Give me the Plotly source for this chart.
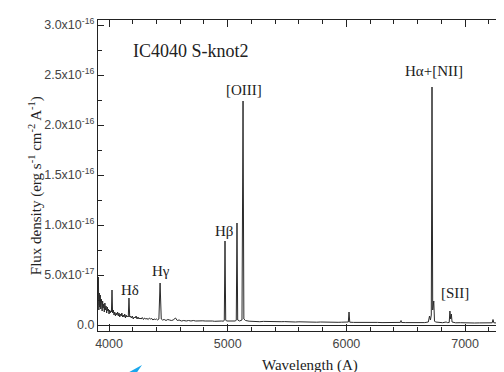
import plotly.graph_objects as go

# Spectrum of IC4040 S-knot2, flux in units of 1e-17 erg/s/cm2/A
wavelength = [
    3907, 3910, 3914, 3918, 3922, 3926, 3930, 3934, 3938, 3942, 3946, 3950,
    3955, 3960, 3965, 3970, 3975, 3980, 3985, 3990, 3995, 4000, 4005, 4010,
    4015, 4020, 4025, 4030, 4036, 4042, 4048, 4054, 4060, 4066, 4072, 4078,
    4084, 4090, 4096, 4102, 4108, 4114, 4120, 4126, 4132, 4138, 4144, 4150,
    4156, 4162, 4168, 4174, 4180, 4188, 4196, 4204, 4212, 4220, 4228, 4236,
    4244, 4252, 4260, 4270, 4280, 4290, 4300, 4310, 4320, 4330, 4340, 4350,
    4360, 4370, 4380, 4390, 4400, 4410, 4420, 4430, 4440, 4450, 4465, 4480,
    4495, 4510, 4525, 4540, 4560, 4575, 4590, 4610, 4630, 4650, 4670, 4690,
    4710, 4730, 4750, 4770, 4790, 4810, 4830, 4850, 4870, 4890, 4910, 4930,
    4950, 4965, 4971, 4977, 4983, 4990, 5010, 5040, 5065, 5072, 5078, 5084,
    5100, 5120, 5129, 5136, 5150, 5180, 5210, 5240, 5270, 5300, 5330, 5360,
    5390, 5420, 5450, 5480, 5510, 5540, 5570, 5600, 5630, 5660, 5690, 5720,
    5750, 5780, 5810, 5840, 5870, 5900, 5930, 5960, 5990, 6010, 6016, 6022,
    6028, 6060, 6100, 6140, 6180, 6220, 6260, 6300, 6340, 6380, 6420, 6455,
    6460, 6465, 6500, 6540, 6580, 6620, 6660, 6690, 6700, 6708, 6715, 6721,
    6727, 6736, 6742, 6750, 6780, 6810, 6840, 6850, 6866, 6872, 6878, 6884,
    6890, 6920, 6960, 7000, 7040, 7080, 7120, 7160, 7200, 7228, 7235, 7242,
    7270, 7296, 7302, 7308, 7340, 7395,
]
flux = [
    2.0, 4.8, 1.5, 3.2, 1.8, 3.0, 1.6, 2.6, 2.2, 1.4, 2.4, 1.7,
    2.1, 1.3, 2.2, 1.5, 1.9, 1.2, 1.8, 1.4, 1.6, 1.1, 1.5, 1.2,
    1.4, 1.3, 3.5, 1.2, 1.5, 1.0, 1.3, 0.9, 1.2, 1.0, 1.3, 0.9,
    1.2, 0.8, 1.1, 0.9, 1.2, 0.8, 1.0, 0.8, 1.1, 0.7, 1.0, 0.8,
    0.9, 0.8, 2.7, 0.8, 0.9, 0.7, 0.9, 0.6, 0.8, 0.7, 0.9, 0.6,
    0.8, 0.6, 0.7, 0.6, 0.75, 0.55, 0.7, 0.6, 0.65, 0.55, 0.7, 0.6,
    0.65, 0.5, 0.6, 0.55, 0.6, 0.5, 0.6, 4.2, 0.6, 0.5, 0.55, 0.45,
    0.55, 0.5, 0.45, 0.5, 0.7, 0.45, 0.5, 0.4, 0.45, 0.4, 0.45, 0.4,
    0.45, 0.4, 0.42, 0.38, 0.42, 0.4, 0.42, 0.38, 0.4, 0.37, 0.4, 0.38,
    0.4, 0.38, 0.5, 8.4, 0.5, 0.4, 0.38, 0.37, 0.4, 0.5, 10.2, 0.5,
    0.4, 0.5, 22.4, 0.6, 0.45, 0.38, 0.35, 0.37, 0.33, 0.36, 0.34, 0.35,
    0.32, 0.35, 0.33, 0.34, 0.31, 0.33, 0.3, 0.32, 0.3, 0.31, 0.29, 0.31,
    0.28, 0.3, 0.28, 0.29, 0.27, 0.29, 0.27, 0.28, 0.27, 0.28, 0.3, 1.3,
    0.28, 0.26, 0.27, 0.25, 0.27, 0.25, 0.26, 0.24, 0.25, 0.24, 0.25, 0.26,
    0.45, 0.25, 0.24, 0.23, 0.25, 0.23, 0.24, 0.3, 0.9, 0.5, 1.0, 23.8,
    1.5, 2.4, 0.4, 0.3, 0.25, 0.23, 0.3, 0.24, 0.25, 1.4, 0.6, 1.1,
    0.3, 0.22, 0.23, 0.2, 0.22, 0.2, 0.21, 0.2, 0.21, 0.22, 0.55, 0.22,
    0.2, 0.2, 1.0, 0.2, 0.19, 0.2,
]

# Line labels
label_text = ['[OIII]', 'H\u03b1+[NII]', 'H\u03b2', 'H\u03b3', 'H\u03b4', '[SII]']
label_x = [5137, 6738, 4969, 4438, 4177, 6915]
label_y = [23.5, 25.4, 9.4, 5.4, 3.5, 3.2]

# Axis ticks
x_tickvals = [4000, 5000, 6000, 7000]
y_tickvals = [0, 5, 10, 15, 20, 25, 30]
y_ticktext = ['0.0', '5.0x10<sup>-17</sup>', '1.0x10<sup>-16</sup>',
              '1.5x10<sup>-16</sup>', '2.0x10<sup>-16</sup>',
              '2.5x10<sup>-16</sup>', '3.0x10<sup>-16</sup>']

serif = 'Liberation Serif, Times New Roman, serif'
sans = 'Liberation Sans, Arial, sans-serif'
ink = '#222222'
tick_ink = '#444444'

fig = go.Figure()

fig.add_trace(go.Scatter(
    x=wavelength,
    y=flux,
    mode='lines',
    line=dict(color='#2a2a2a', width=1),
    showlegend=False,
))

annotations = []
for t, lx, ly in zip(label_text, label_x, label_y):
    annotations.append(dict(
        x=lx, y=ly, text=t, showarrow=False,
        xanchor='center', yanchor='middle',
        font=dict(family=serif, size=15, color=ink),
    ))

# Panel title
annotations.append(dict(
    x=4185, y=27.4, text='IC4040 S-knot2', showarrow=False,
    xanchor='left', yanchor='middle',
    font=dict(family=serif, size=18, color=ink),
))

# Axis titles
annotations.append(dict(
    xref='paper', yref='paper', x=0.512, y=-0.112,
    xanchor='center', yanchor='middle',
    text='Wavelength (A)', showarrow=False,
    font=dict(family=serif, size=15, color=ink),
))
annotations.append(dict(
    xref='paper', yref='paper', x=-0.152, y=0.466, textangle=-90,
    xanchor='center', yanchor='middle',
    text='Flux density (erg s<sup>-1</sup> cm<sup>-2</sup> A<sup>-1</sup>)',
    showarrow=False, font=dict(family=serif, size=15, color=ink),
))


# Cyan pointer mark at the bottom left (pixel -> paper)
def px(xp):
    return (xp - 90) / 414.0


def py(yp):
    return (323 - yp) / 311.0


pointer = 'M {} {} L {} {} L {} {} Z'.format(
    px(134), py(357), px(105), py(373), px(123), py(373))

fig.update_layout(
    width=504,
    height=372,
    margin=dict(l=90, r=0, t=12, b=49),
    paper_bgcolor='white',
    plot_bgcolor='white',
    annotations=annotations,
    shapes=[dict(type='path', xref='paper', yref='paper', path=pointer,
                 fillcolor='#1aa7ec', line=dict(width=0))],
    xaxis=dict(
        range=[3907, 7395],
        tickvals=x_tickvals,
        ticks='inside',
        ticklen=7,
        tickcolor=ink,
        showline=True,
        linecolor=ink,
        linewidth=1.2,
        mirror='ticks',
        showgrid=False,
        zeroline=False,
        ticklabelstandoff=1,
        tickfont=dict(family=sans, size=12.5, color=tick_ink),
        minor=dict(tickmode='linear', tick0=0, dtick=200, ticks='inside',
                   ticklen=4, tickcolor=ink, showgrid=False),
    ),
    yaxis=dict(
        range=[-0.6, 30.5],
        tickvals=y_tickvals,
        ticktext=y_ticktext,
        ticks='inside',
        ticklen=6,
        tickcolor=ink,
        showline=True,
        linecolor=ink,
        linewidth=1.2,
        mirror=False,
        showgrid=False,
        zeroline=True,
        zerolinecolor=ink,
        zerolinewidth=1,
        ticklabelstandoff=0,
        tickfont=dict(family=sans, size=12.5, color=tick_ink),
        minor=dict(tickmode='linear', tick0=0, dtick=2.5, ticks='inside',
                   ticklen=4, tickcolor=ink, showgrid=False),
    ),
)

fig.write_html('out.html')
